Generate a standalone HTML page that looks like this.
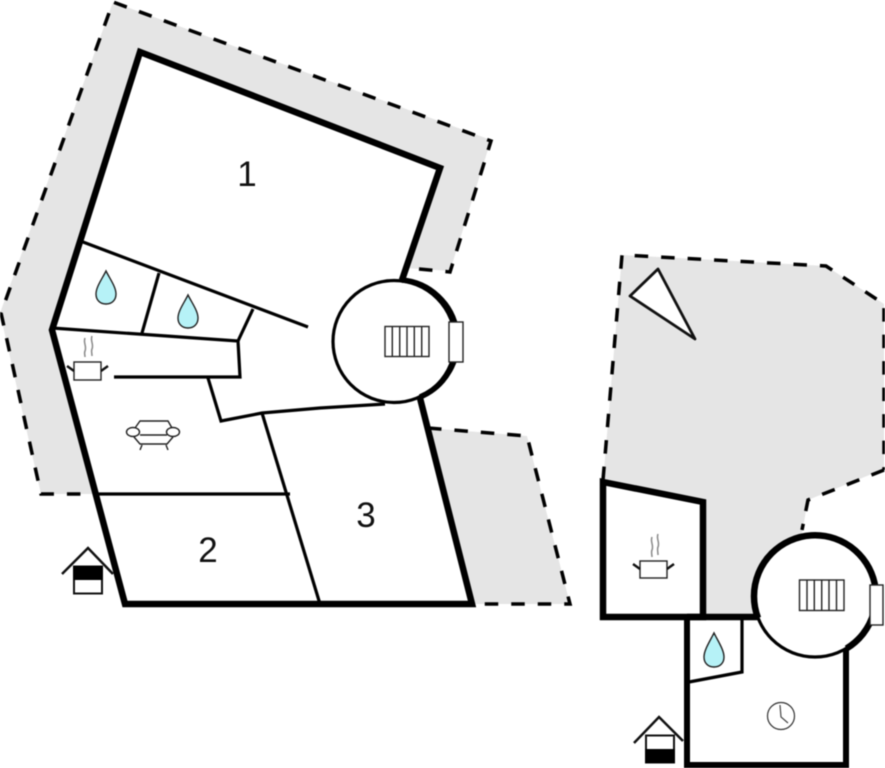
<!DOCTYPE html>
<html>
<head>
<meta charset="utf-8">
<style>
html,body{margin:0;padding:0;background:#fff;width:885px;height:768px;overflow:hidden}
svg{display:block;filter:blur(0.4px)}
text{font-family:"Liberation Sans",sans-serif;fill:#111}
</style>
</head>
<body>
<svg width="885" height="768" viewBox="0 0 885 768" xmlns="http://www.w3.org/2000/svg">
<!-- gray grounds -->
<polygon fill="#e5e5e5" points="113,2 491,140 450,271 405,268 97,494 41,494 0,313"/>
<polygon fill="#e5e5e5" points="428,428 527,436 570,604 472,604"/>
<polygon fill="#e5e5e5" points="622,255 826,266 884,304 884,469 808,500 802,533 760,620 703,620 703,502 603,482"/>
<!-- dashed borders -->
<g fill="none" stroke="#000" stroke-width="3.500" stroke-dasharray="13.500 13">
<path d="M419,269 L450,272 L491,141 L113,2 L1,313 L41,494 L97,494"/>
<path d="M428,428 L527,436 L570,604 L476,604"/>
<path d="M884,470 L808,500 L802,530"/>
<path d="M603,480 L622,255 L826,266 L884,304 L884,470"/>
</g>
<!-- white building fills -->
<polygon fill="#fff" points="140,52 440,168 402,280 420,400 472,604 125,604 52,330"/>
<circle cx="394" cy="341.5" r="61" fill="#fff"/>
<polygon fill="#fff" points="603,482 703,502 703,617 603,617"/>
<polygon fill="#fff" points="687,618 846,618 846,765 687,765"/>
<circle cx="815" cy="596" r="61" fill="#fff"/>

<!-- LEFT BUILDING -->
<g fill="none" stroke="#000" stroke-width="3.200">
<path d="M83,242 L308,327"/>
<path d="M159,273 L142,333"/>
<path d="M253,309 L238,341"/>
<path d="M52,328 L238,341 L240,377 L114,377"/>
<path d="M208,378 L221,421 L262,413 L320,408 L385,404"/>
<path d="M262,413 L320,604"/>
<path d="M97,494 L290,494"/>
<circle cx="394" cy="341.5" r="61"/>
</g>
<path d="M402,280 A61,61 0 0 1 420,397" fill="none" stroke="#000" stroke-width="5.500"/>
<path d="M402,280 L440,168 L140,52 L52,330 L125,604 L472,604 L420,398" fill="none" stroke="#000" stroke-width="6.500"/>
<rect x="449" y="322" width="14" height="40" fill="#fff" stroke="#222" stroke-width="1.400"/>
<g fill="none" stroke="#222" stroke-width="1.400">
<rect x="385" y="326.500" width="44" height="30"/>
<path d="M392.300,326.500V356.500M399.700,326.500V356.500M407,326.500V356.500M414.300,326.500V356.500M421.700,326.500V356.500"/>
</g>
<g fill="#b6f2f7" stroke="#222" stroke-width="1.400">
<path d="M106,271 C110,279 116,287 116,294 C116,300 112,304 106,304 C100,304 96,300 96,294 C96,287 102,279 106,271 Z"/>
<path d="M188,295 C192,303 198,311 198,318 C198,324 194,328 188,328 C182,328 178,324 178,318 C178,311 184,303 188,295 Z"/>
</g>
<!-- pot left -->
<g fill="none">
<rect x="74" y="362" width="27" height="18" fill="#fff" stroke="#222" stroke-width="1.400"/>
<path d="M67,366 L74,371 M101,371 L108,366" stroke="#111" stroke-width="2.400"/>
<path d="M85,338 C83,343 87,346 85,351 C84,353 85,355 85,357 M92,336 C90,341 94,344 92,349 C91,351 92,353 92,356" stroke="#888" stroke-width="1.500"/>
</g>
<!-- sofa -->
<g fill="#fff" stroke="#222" stroke-width="1.400">
<path d="M135,428 L140,421 H168 L172,428" fill="none"/>
<path d="M134,437 L140,444 H167 L173,437" fill="none"/>
<path d="M140,435 H167" fill="none"/>
<path d="M142,445 L140,450 M166,445 L168,450" fill="none"/>
<ellipse cx="133" cy="432" rx="6.500" ry="4.500"/>
<ellipse cx="173" cy="432" rx="6.500" ry="4.500"/>
</g>
<!-- house left -->
<path d="M62,574 L88,548 L113,574" fill="none" stroke="#111" stroke-width="2.500"/>
<rect x="74" y="566.500" width="28" height="27" fill="#fff" stroke="#111" stroke-width="2"/>
<rect x="73" y="566" width="30" height="14" fill="#000"/>
<text x="247" y="186" font-size="35" text-anchor="middle">1</text>
<text x="208" y="562" font-size="35" text-anchor="middle">2</text>
<text x="366" y="527" font-size="35" text-anchor="middle">3</text>

<!-- RIGHT BUILDING -->
<polygon points="658,269 630,296 695,339" fill="#fff" stroke="#111" stroke-width="2.800" stroke-linejoin="round"/>
<path d="M603,482 L703,502 L703,617 L603,617 Z" fill="none" stroke="#000" stroke-width="6.500"/>
<path d="M687,617 H758" fill="none" stroke="#000" stroke-width="6.500"/>
<path d="M687,617 V765 H846 V649" fill="none" stroke="#000" stroke-width="6"/>
<path d="M742,620 V672 L689,682" fill="none" stroke="#000" stroke-width="3.200"/>
<circle cx="815" cy="596" r="61" fill="none" stroke="#000" stroke-width="3.200"/>
<path d="M758,618 A61,61 0 1 1 846.500,648.500" fill="none" stroke="#000" stroke-width="6.500"/>
<rect x="870" y="585" width="13" height="40" fill="#fff" stroke="#222" stroke-width="1.400"/>
<g fill="none" stroke="#222" stroke-width="1.400">
<rect x="799.500" y="580" width="44.500" height="30.500"/>
<path d="M807,580V610.500M814.300,580V610.500M821.700,580V610.500M829,580V610.500M836.500,580V610.500"/>
</g>
<path d="M714,633 C718,641 724,650 724,657 C724,663 720,667 714,667 C708,667 704,663 704,657 C704,650 710,641 714,633 Z" fill="#b6f2f7" stroke="#222" stroke-width="1.400"/>
<circle cx="781" cy="716" r="13.500" fill="#fff" stroke="#333" stroke-width="1.200"/>
<path d="M780,705 L781,717 L788,723" fill="none" stroke="#444" stroke-width="1.200"/>
<!-- pot right -->
<g fill="none">
<rect x="640" y="561" width="27" height="17" fill="#fff" stroke="#222" stroke-width="1.400"/>
<path d="M633,564 L640,569 M667,569 L674,564" stroke="#111" stroke-width="2.400"/>
<path d="M652,537 C650,542 654,545 652,550 C651,552 652,555 652,557 M658,534 C656,539 660,542 658,547 C657,549 658,552 658,555" stroke="#888" stroke-width="1.500"/>
</g>
<!-- house right -->
<path d="M634,743 L659,717 L683,741" fill="none" stroke="#111" stroke-width="2.500"/>
<rect x="646" y="735.500" width="28" height="27" fill="#fff" stroke="#111" stroke-width="2"/>
<rect x="645" y="749" width="30" height="14" fill="#000"/>
</svg>
</body>
</html>
